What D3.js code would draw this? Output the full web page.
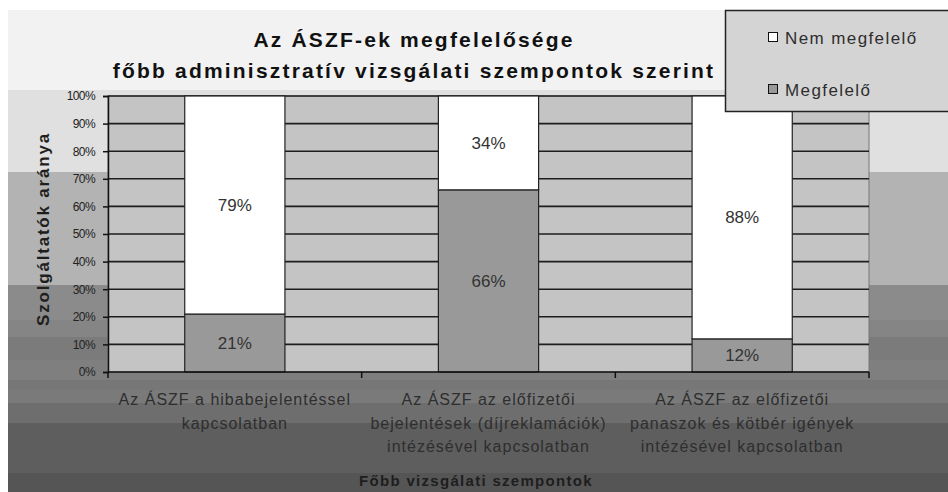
<!DOCTYPE html>
<head>
  <meta charset="utf-8">
  <style>
    body { margin: 0; background: #fff; }
    svg { display: block; }
  </style>
</head>
<body>
  <div id="chart"></div>
  <script src="https://d3js.org/d3.v7.min.js"></script>
  <script>

    // data
    var categories = [
      ["Az ÁSZF a hibabejelentéssel", "kapcsolatban"],
      ["Az ÁSZF az előfizetői", "bejelentések (díjreklamációk)", "intézésével kapcsolatban"],
      ["Az ÁSZF az előfizetői", "panaszok és kötbér igények", "intézésével kapcsolatban"]
    ]
    var megfelelo = [21, 66, 12]
    var nemMegfelelo = [79, 34, 88]
    var seriesNames = ["Nem megfelelő", "Megfelelő"]
    var yTicks = [0, 10, 20, 30, 40, 50, 60, 70, 80, 90, 100]

    var width = 948, height = 492
    var margin = { top: 96, left: 108, right: 79, bottom: 120 }

    // background bands of the chart area (style only)
    var bgBands = [
      [10, 90, "#f2f2f2"], [90, 172, "#e0e0e0"], [172, 285, "#b3b3b3"],
      [285, 320, "#8b8b8b"], [320, 337, "#858585"], [337, 360, "#7b7b7b"],
      [360, 380, "#7f7f7f"], [380, 390, "#777"], [390, 403, "#7a7a7a"],
      [403, 423, "#6e6e6e"], [423, 473, "#5e5e5e"], [473, 492, "#555"]
    ]

    var svg = d3.select("#chart").append("svg")
      .attr("width", width)
      .attr("height", height)

    svg.append("g").selectAll("rect")
      .data(bgBands)
      .enter().append("rect")
        .attr("x", 8)
        .attr("y", function(d) { return d[0] })
        .attr("width", width - 8)
        .attr("height", function(d) { return d[1] - d[0] })
        .attr("fill", function(d) { return d[2] })

    var x = d3.scaleBand()
      .domain(d3.range(categories.length))
      .range([margin.left, width - margin.right])
      .paddingInner(0.605)
      .paddingOuter(0.3025)

    var xCat = d3.scaleBand()
      .domain(d3.range(categories.length))
      .range([margin.left, width - margin.right])

    var y = d3.scaleLinear()
      .domain([0, 100])
      .range([372, margin.top])

    // plot area
    svg.append("rect")
      .attr("x", margin.left)
      .attr("y", y(100))
      .attr("width", width - margin.right - margin.left)
      .attr("height", y(0) - y(100))
      .attr("fill", "#c4c4c4")
      .attr("stroke", "#777")
      .attr("stroke-width", 1)

    // gridlines
    svg.append("g").selectAll("line")
      .data(yTicks.slice(1))
      .enter().append("line")
        .attr("x1", margin.left)
        .attr("x2", width - margin.right)
        .attr("y1", function(d) { return y(d) })
        .attr("y2", function(d) { return y(d) })
        .attr("stroke", "#1e1e1e")
        .attr("stroke-width", 1.6)

    // stacked bars
    var stackData = categories.map(function(c, i) {
      return { i: i, m: megfelelo[i], n: nemMegfelelo[i] }
    })

    var bars = svg.append("g")
    bars.selectAll(".m")
      .data(stackData)
      .enter().append("rect")
        .attr("x", function(d) { return x(d.i) })
        .attr("y", function(d) { return y(d.m) })
        .attr("width", x.bandwidth())
        .attr("height", function(d) { return y(0) - y(d.m) })
        .attr("fill", "#999999")
        .attr("stroke", "#222")
        .attr("stroke-width", 1.2)

    bars.selectAll(".n")
      .data(stackData)
      .enter().append("rect")
        .attr("x", function(d) { return x(d.i) })
        .attr("y", function(d) { return y(d.m + d.n) })
        .attr("width", x.bandwidth())
        .attr("height", function(d) { return y(d.m) - y(d.m + d.n) })
        .attr("fill", "#ffffff")
        .attr("stroke", "#222")
        .attr("stroke-width", 1.2)

    // data labels
    var labels = svg.append("g")
      .attr("font-family", "Liberation Sans, Arial, sans-serif")
      .attr("font-size", "17px")
      .attr("fill", "#333")
      .attr("text-anchor", "middle")

    stackData.forEach(function(d) {
      labels.append("text")
        .attr("x", x(d.i) + x.bandwidth() / 2)
        .attr("y", y(d.m / 2) + 6)
        .text(d.m + "%")
      labels.append("text")
        .attr("x", x(d.i) + x.bandwidth() / 2)
        .attr("y", y(d.m + d.n / 2) + 6)
        .text(d.n + "%")
    })

    // y axis
    var yAxis = svg.append("g")
      .attr("transform", "translate(" + margin.left + ",0)")
      .call(d3.axisLeft(y).tickValues(yTicks).tickSize(5).tickPadding(8)
        .tickFormat(function(d) { return d + "%" }))
    yAxis.select(".domain").attr("stroke", "#111").attr("stroke-width", 1.5)
    yAxis.selectAll(".tick line").attr("stroke", "#111").attr("stroke-width", 1.5)
    yAxis.selectAll("text")
      .attr("font-family", "Liberation Sans Narrow, Liberation Sans, sans-serif")
      .attr("font-size", "12px")
      .attr("fill", "#222")
      .attr("letter-spacing", "-0.6px")

    // x axis line and category ticks
    var xAxis = svg.append("g")
    xAxis.append("line")
      .attr("x1", margin.left)
      .attr("x2", width - margin.right)
      .attr("y1", y(0))
      .attr("y2", y(0))
      .attr("stroke", "#111")
      .attr("stroke-width", 1.5)
    xAxis.selectAll(".tk")
      .data(d3.range(categories.length + 1))
      .enter().append("line")
        .attr("x1", function(d) { return margin.left + d * xCat.step() })
        .attr("x2", function(d) { return margin.left + d * xCat.step() })
        .attr("y1", y(0))
        .attr("y2", y(0) + 6)
        .attr("stroke", "#111")
        .attr("stroke-width", 1.5)

    var catText = svg.append("g")
      .attr("font-family", "Liberation Sans, Arial, sans-serif")
      .attr("font-size", "16px")
      .attr("fill", "#2e2e2e")
      .attr("text-anchor", "middle")
      .attr("letter-spacing", "1px")

    categories.forEach(function(lines, i) {
      lines.forEach(function(t, j) {
        catText.append("text")
          .attr("x", xCat(i) + xCat.bandwidth() / 2)
          .attr("y", 405 + j * 23.5)
          .text(t)
      })
    })

    // axis titles
    svg.append("text")
      .attr("x", 476)
      .attr("y", 486)
      .attr("text-anchor", "middle")
      .attr("font-family", "Liberation Sans, Arial, sans-serif")
      .attr("font-weight", "bold")
      .attr("font-size", "15px")
      .attr("letter-spacing", "1.3px")
      .attr("fill", "#1e1e1e")
      .text("Főbb vizsgálati szempontok")

    svg.append("text")
      .attr("transform", "translate(49,229) rotate(-90)")
      .attr("text-anchor", "middle")
      .attr("font-family", "Liberation Sans, Arial, sans-serif")
      .attr("font-weight", "bold")
      .attr("font-size", "17px")
      .attr("letter-spacing", "1.8px")
      .attr("fill", "#1e1e1e")
      .text("Szolgáltatók aránya")

    // title
    var title = svg.append("g")
      .attr("font-family", "Liberation Sans, Arial, sans-serif")
      .attr("font-weight", "bold")
      .attr("font-size", "21px")
      .attr("letter-spacing", "2.2px")
      .attr("fill", "#111")
      .attr("text-anchor", "middle")
    title.append("text").attr("x", 414).attr("y", 47).text("Az ÁSZF-ek megfelelősége")
    title.append("text").attr("x", 414).attr("y", 78).text("főbb adminisztratív vizsgálati szempontok szerint")

    // legend
    var legend = svg.append("g")
    legend.append("rect")
      .attr("x", 725.5)
      .attr("y", 10.5)
      .attr("width", 240)
      .attr("height", 101)
      .attr("fill", "#d4d4d4")
      .attr("stroke", "#222")
      .attr("stroke-width", 1.5)

    var legendFill = ["#ffffff", "#999999"]
    seriesNames.forEach(function(s, i) {
      legend.append("rect")
        .attr("x", 768.5)
        .attr("y", 32.5 + i * 52)
        .attr("width", 9)
        .attr("height", 9)
        .attr("fill", legendFill[i])
        .attr("stroke", "#111")
        .attr("stroke-width", 1)
      legend.append("text")
        .attr("x", 785)
        .attr("y", 44 + i * 52)
        .attr("font-family", "Liberation Sans, Arial, sans-serif")
        .attr("font-size", "17px")
        .attr("letter-spacing", "1.4px")
        .attr("fill", "#2e2e2e")
        .text(s)
    })

  </script>
</body>
